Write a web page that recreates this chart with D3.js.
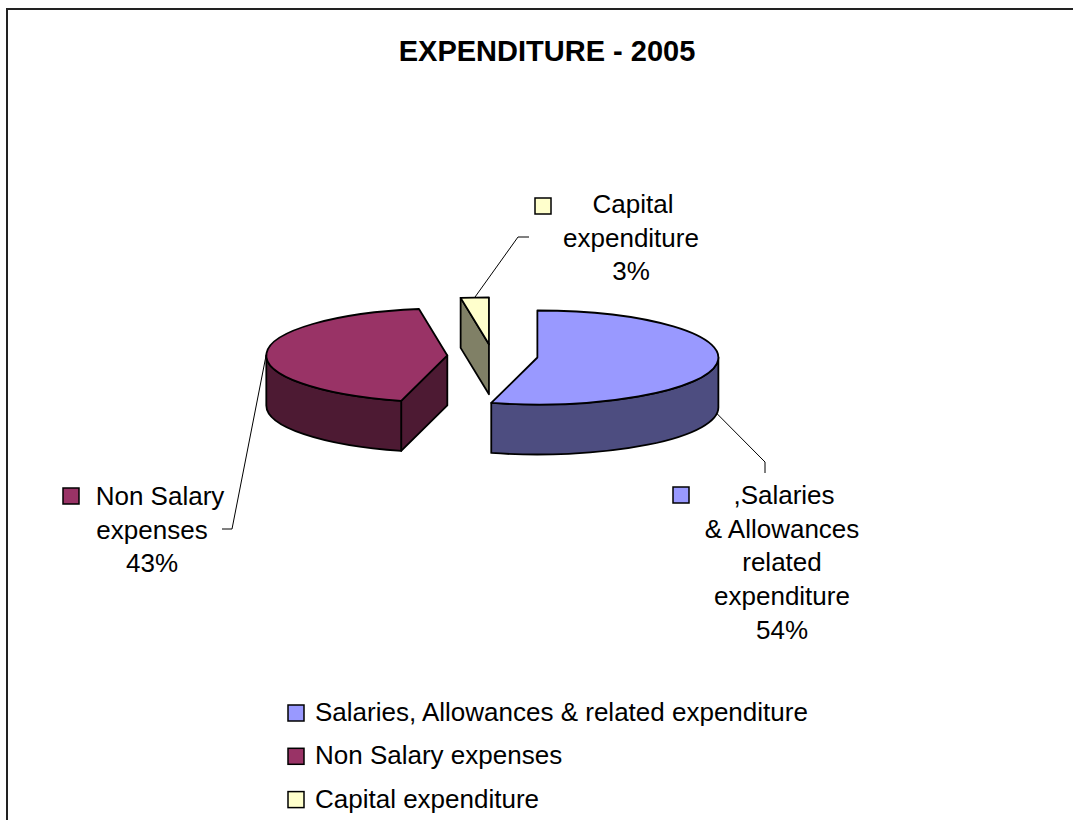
<!DOCTYPE html>
<html>
<head>
<meta charset="utf-8">
<title>Expenditure 2005</title>
<script src="https://d3js.org/d3.v7.min.js"></script>
<style>
body { margin: 0; background: #fff; }
text { font-family: "Liberation Sans", Arial, sans-serif; fill: #000; }
</style>
</head>
<body>
<svg id="chart" width="1073" height="820"></svg>
<script>
// data
const categories = ["Salaries, Allowances & related expenditure", "Non Salary expenses", "Capital expenditure"];
const values = [54.1, 43.4, 2.5];
const labelLines = [[",Salaries", "& Allowances", "related", "expenditure"], ["Non Salary", "expenses"], ["Capital", "expenditure"]];
const sliceColors = ["#9999FF", "#993366", "#FFFFCC"];
const chartTitle = "EXPENDITURE - 2005";

const svg = d3.select("#chart");

// 3d pie geometry
const CX = 492.5, CY = 356, RX = 181, RY = 47, DEPTH = 50, EXPLODE = 0.25;

// where the data labels sit (text centre, first baseline, key box, leader elbow + end)
const labelLayout = [
    {x: 782, y: 504, dx0: 2, key: [673, 487], leader: [[765, 462], [765, 473]]},
    {x: 152, y: 505, dx0: 8, key: [63, 488], leader: [[232, 529], [222, 529]]},
    {x: 631, y: 213, dx0: 2, key: [535, 198], leader: [[518, 237], [529, 237]]}
];
const LINE_H = 33.7;

const color = d3.scaleOrdinal().domain(categories).range(sliceColors);
const shade = c => { const r = d3.rgb(c); return d3.rgb(r.r * 0.5, r.g * 0.5, r.b * 0.5).formatHex(); };

const pie = d3.pie().sort(null).value(d => d);
const arcs = pie(values);

function pt(c, a, dz) {
    return [c[0] + RX * Math.sin(a), c[1] - RY * Math.cos(a) + (dz || 0)];
}

arcs.forEach((d, i) => {
    d.name = categories[i];
    d.mid = (d.startAngle + d.endAngle) / 2;
    d.c = [CX + EXPLODE * RX * Math.sin(d.mid), CY - EXPLODE * RY * Math.cos(d.mid)];
});

function topPath(d) {
    const s = pt(d.c, d.startAngle), e = pt(d.c, d.endAngle);
    const large = (d.endAngle - d.startAngle) > Math.PI ? 1 : 0;
    return `M${d.c} L${s} A${RX},${RY} 0 ${large} 1 ${e} Z`;
}

function wallPath(d) {
    const a0 = Math.max(d.startAngle, Math.PI / 2), a1 = Math.min(d.endAngle, 3 * Math.PI / 2);
    if (a1 <= a0) return null;
    const s = pt(d.c, a0), e = pt(d.c, a1), eb = pt(d.c, a1, DEPTH), sb = pt(d.c, a0, DEPTH);
    return `M${s} A${RX},${RY} 0 0 1 ${e} L${eb} A${RX},${RY} 0 0 0 ${sb} Z`;
}

function sidePath(d, a) {
    const r = pt(d.c, a), rb = pt(d.c, a, DEPTH);
    return `M${d.c} L${r} L${rb} L${d.c[0]},${d.c[1] + DEPTH} Z`;
}

// frame
svg.append("path")
   .attr("d", "M7,820 L7,9 L1073,9")
   .style("fill", "none")
   .style("stroke", "#222")
   .style("stroke-width", 2);

// title
svg.append("text")
   .attr("x", 547)
   .attr("y", 61)
   .attr("text-anchor", "middle")
   .style("font-size", "29px")
   .style("font-weight", "bold")
   .text(chartTitle);

// slices, back to front
const order = arcs.slice().sort((a, b) => a.c[1] - b.c[1]);
const slices = svg.append("g")
    .selectAll("g")
    .data(order)
    .join("g");

slices.each(function(d) {
    const g = d3.select(this);
    const top = color(d.name), dark = shade(top);
    const faces = [];
    if (Math.sin(d.startAngle) < -1e-6) faces.push(sidePath(d, d.startAngle));
    if (Math.sin(d.endAngle) > 1e-6) faces.push(sidePath(d, d.endAngle));
    const w = wallPath(d);
    if (w) faces.push(w);
    faces.forEach(f => {
        g.append("path")
         .attr("d", f)
         .style("fill", dark)
         .style("stroke", "#000")
         .style("stroke-width", 1.8)
         .style("stroke-linejoin", "round");
    });
    g.append("path")
     .attr("d", topPath(d))
     .style("fill", top)
     .style("stroke", "#000")
     .style("stroke-width", 1.8)
     .style("stroke-linejoin", "round");
});

// leader lines and data labels
arcs.forEach((d, i) => {
    const lay = labelLayout[i];
    const front = Math.cos(d.mid) < 0;
    const anchor = pt(d.c, d.mid, front ? DEPTH : 0);
    svg.append("path")
       .attr("d", d3.line()([anchor].concat(lay.leader)))
       .style("fill", "none")
       .style("stroke", "#000")
       .style("stroke-width", 1);

    svg.append("rect")
       .attr("x", lay.key[0])
       .attr("y", lay.key[1])
       .attr("width", 16)
       .attr("height", 16)
       .style("fill", color(d.name))
       .style("stroke", "#000")
       .style("stroke-width", 1.5);

    const lines = labelLines[i].concat([Math.round(values[i]) + "%"]);
    const t = svg.append("text")
       .attr("text-anchor", "middle")
       .style("font-size", "26px");
    lines.forEach((ln, j) => {
        t.append("tspan")
         .attr("x", lay.x + (j === 0 ? lay.dx0 : 0))
         .attr("y", lay.y + j * LINE_H)
         .text(ln);
    });
});

// legend
const legend = svg.append("g")
    .attr("transform", "translate(288, 705)");

const rows = legend.selectAll("g")
    .data(categories)
    .join("g")
    .attr("transform", (d, i) => `translate(0, ${i * 43.3})`);

rows.append("rect")
    .attr("width", 16)
    .attr("height", 16)
    .style("fill", d => color(d))
    .style("stroke", "#000")
    .style("stroke-width", 1.5);

rows.append("text")
    .attr("x", 27)
    .attr("y", 16)
    .style("font-size", "26px")
    .text(d => d);
</script>
</body>
</html>
